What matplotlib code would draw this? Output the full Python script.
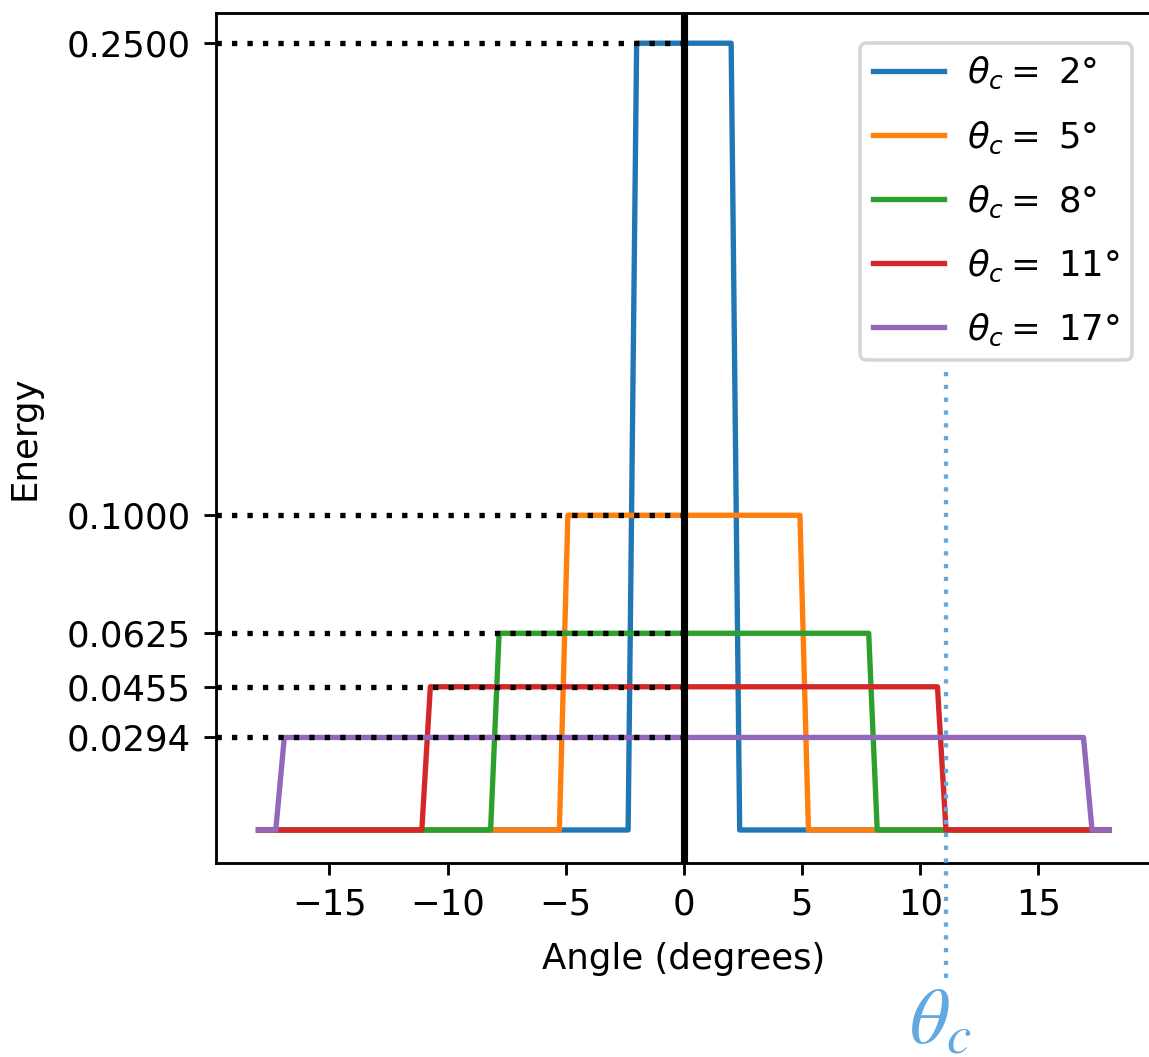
import matplotlib
matplotlib.use("Agg")
import matplotlib.pyplot as plt

W, H, DPI = 1149, 1057, 256

# critical angle of each curve (deg) and its plateau energy
theta_c = [2, 5, 8, 11, 17]
plateau = [0.2500, 0.1000, 0.0625, 0.0455, 0.0294]
# last sample on the plateau / first sample back at zero
edge_in = [2.00, 4.91, 7.82, 10.73, 16.91]
edge_out = [2.36, 5.27, 8.18, 11.09, 17.27]
x_end = 18.0
colors = ["#1f77b4", "#ff7f0e", "#2ca02c", "#d62728", "#9467bd"]
xticks = [-15, -10, -5, 0, 5, 10, 15]

MARK = "#62a9e2"   # hand-drawn theta_c marker colour

fig = plt.figure(figsize=(W / DPI, H / DPI), dpi=DPI)
# right spine sits just outside the canvas, as in the cropped original
ax = fig.add_axes([216 / W, 1 - 862.7 / H, (1151.8 - 216) / W, (862.7 - 13) / H])

for tc, h, ei, eo, c in zip(theta_c, plateau, edge_in, edge_out, colors):
    xs = [-x_end, -eo, -ei, ei, eo, x_end]
    ys = [0, 0, h, h, 0, 0]
    ax.plot(xs, ys, color=c, label=rf"$\theta_c=$ {tc}°")

ax.set_xlim(-19.8, 19.8)
ax.set_ylim(-0.0104, 0.2596)
ax.set_xticks(xticks)
ax.set_yticks(plateau)
ax.set_yticklabels([f"{v:.4f}" for v in plateau])
ax.set_xlabel("Angle (degrees)", labelpad=5.7)
ax.set_ylabel("Energy", labelpad=7)

# guides: dotted levels from the axis to the centre line, and the centre line
x0 = ax.get_xlim()[0]
for h in plateau:
    ax.plot([x0, 0], [h, h], color="k", lw=1.5, ls=(0, (1, 1.9)), zorder=3)
ax.axvline(0, color="k", lw=2, zorder=4)

ax.legend(loc="upper right", bbox_to_anchor=(0.979, 0.965), borderaxespad=0,
          labelspacing=0.78, handletextpad=0.65, borderpad=0.35)

# theta_c marker below the axes
ax.plot([11.1, 11.1], [0.1455, -0.047], color=MARK, lw=1.2,
        ls=(0, (1, 2)), clip_on=False, zorder=5)
fig.text(940 / W, 1 - 1043 / H, r"$\theta_c$", color=MARK, fontsize=22,
         math_fontfamily="stix", ha="center", va="baseline")

fig.savefig("out.png", dpi=DPI)
